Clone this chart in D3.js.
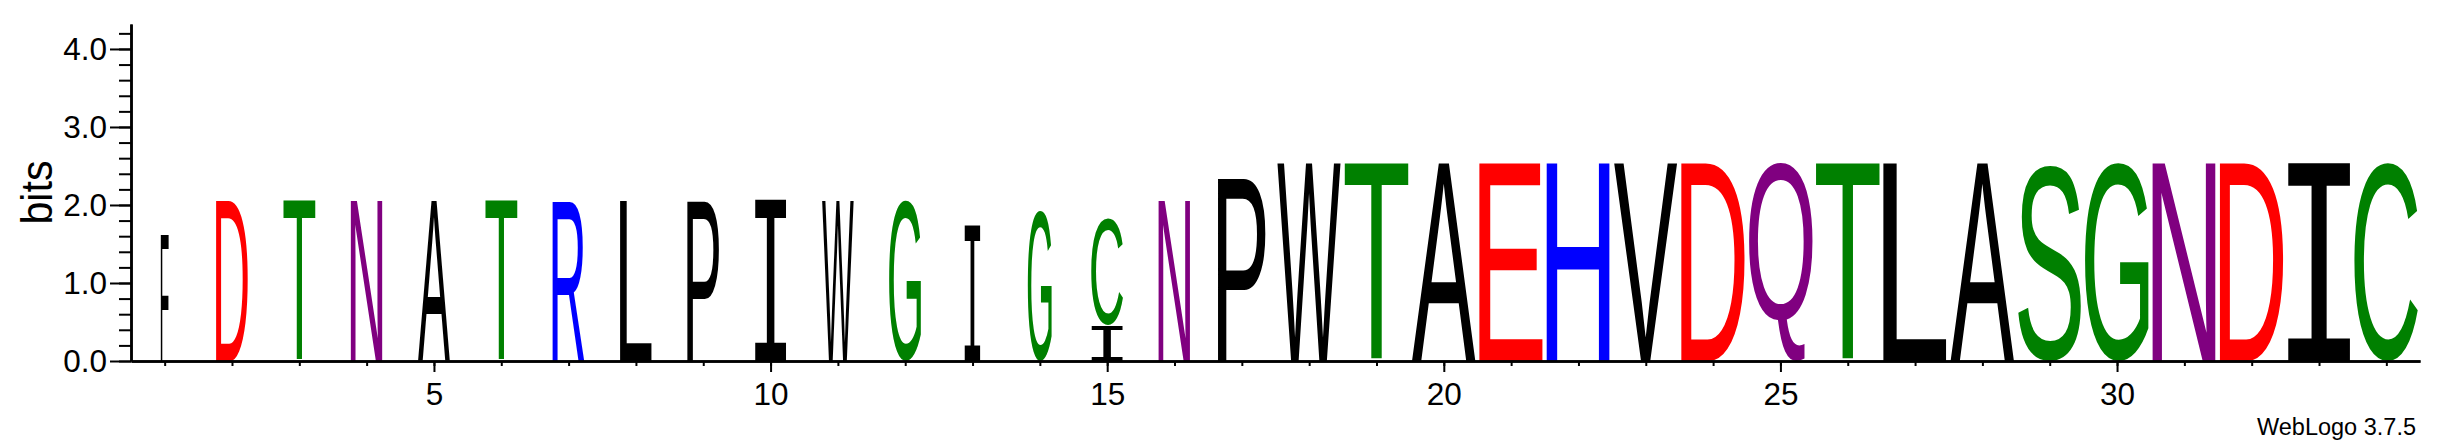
<!DOCTYPE html>
<html>
<head>
<meta charset="utf-8">
<script src="https://cdn.jsdelivr.net/npm/d3@7"></script>
<style>
  body { margin: 0; background: #fff; }
</style>
</head>
<body>
<svg id="logo" width="2442" height="444"></svg>
<script>
// sequence positions along the x axis
const positions = [1, 2, 3, 4, 5, 6, 7, 8, 9, 10, 11, 12, 13, 14, 15, 16, 17,
                   18, 19, 20, 21, 22, 23, 24, 25, 26, 27, 28, 29, 30, 31, 32, 33, 34];

// letters in each stack, bottom to top
const stackLetters = [["F"], ["D"], ["T"], ["N"], ["A"], ["T"], ["R"], ["L"], ["P"], ["I"],
                      ["W"], ["G"], ["I"], ["G"], ["I", "C"], ["N"], ["P"], ["W"], ["T"], ["A"],
                      ["E"], ["H"], ["V"], ["D"], ["Q"], ["T"], ["L"], ["A"], ["S"], ["G"],
                      ["N"], ["D"], ["I"], ["C"]];

// height of each letter in bits, same order as stackLetters
const stackBits = [[1.62], [2.06], [2.06], [2.06], [2.06], [2.06], [2.06], [2.06], [2.06], [2.07],
                   [2.06], [2.06], [1.74], [1.92], [0.45, 1.36], [2.06], [2.34], [2.54], [2.54], [2.54],
                   [2.54], [2.54], [2.54], [2.54], [2.54], [2.54], [2.54], [2.54], [2.54], [2.54],
                   [2.54], [2.54], [2.54], [2.54]];

// number of (non gap) sequences in each column
const seqCounts = [1, 4, 4, 4, 4, 4, 4, 4, 4, 4, 4, 4, 2, 3, 4, 4, 6, 8, 8, 8,
                   8, 8, 8, 8, 8, 8, 8, 8, 8, 8, 8, 8, 8, 8];
const totalSeqs = 8;

const xLabelTicks = [5, 10, 15, 20, 25, 30];
const yMajorTicks = [0, 1, 2, 3, 4];
const yMinorTicks = [0, 0.2, 0.4, 0.6, 0.8, 1, 1.2, 1.4, 1.6, 1.8, 2, 2.2, 2.4, 2.6, 2.8,
                     3, 3.2, 3.4, 3.6, 3.8, 4, 4.2];
const maxBits = 4.32;

// chemistry colour scheme
const letterColor = d3.scaleOrdinal()
    .domain(["G", "S", "T", "Y", "C", "N", "Q", "K", "R", "H", "D", "E",
             "P", "A", "W", "F", "L", "I", "M", "V"])
    .range(["#008000", "#008000", "#008000", "#008000", "#008000", "#800080", "#800080",
            "#0000ff", "#0000ff", "#0000ff", "#ff0000", "#ff0000",
            "#000000", "#000000", "#000000", "#000000", "#000000", "#000000", "#000000", "#000000"]);

const svg = d3.select('#logo');
svg.append('rect').attr('width', 2442).attr('height', 444).attr('fill', '#fff');

const x = d3.scaleLinear().domain([0.5, 34.5]).range([131, 2420]);
const y = d3.scaleLinear().domain([0, maxBits]).range([361, 24]);
const step = x(2) - x(1);

const sansFont = '"Liberation Sans", Arial, sans-serif';
const serifIFont = '"DejaVu Sans Mono", monospace';
function fontFor(ch){
    return ch == "I" ? serifIFont : sansFont;
}

// ink bounds of a glyph at 100px, used to stretch it into its box
const ctx = document.createElement('canvas').getContext('2d');
const boxCache = {};
function inkBox(ch){
    if(boxCache[ch]) return boxCache[ch];
    ctx.font = '100px ' + fontFor(ch);
    const m = ctx.measureText(ch);
    boxCache[ch] = {l: m.actualBoundingBoxLeft, r: m.actualBoundingBoxRight,
                    a: m.actualBoundingBoxAscent, d: m.actualBoundingBoxDescent};
    return boxCache[ch];
}

const glyphs = [];
positions.forEach(function(p, i){
    var base = 0;
    stackLetters[i].forEach(function(ch, j){
        glyphs.push({pos: p, ch: ch, y0: base, y1: base + stackBits[i][j], frac: seqCounts[i] / totalSeqs});
        base += stackBits[i][j];
    });
});

svg.append('g')
    .selectAll('text')
    .data(glyphs)
    .join('text')
    .attr('font-family', d => fontFor(d.ch))
    .attr('font-size', 100)
    .attr('fill', d => letterColor(d.ch))
    .text(d => d.ch)
    .attr('transform', function(d){
        var b = inkBox(d.ch);
        var w = step * 0.95 * d.frac;
        var h = y(d.y0) - y(d.y1);
        var sx = w / (b.l + b.r);
        var sy = h / (b.a + b.d);
        return 'translate(' + (x(d.pos) - w / 2) + ',' + y(d.y1) + ') scale(' + sx + ',' + sy +
               ') translate(' + b.l + ',' + b.a + ')';
    });

// x axis: minor ticks on each position, labelled ticks every 5
function styleAxis(g){
    g.attr('font-family', sansFont).attr('font-size', 31.5);
    g.selectAll('path').attr('stroke-width', 2.5);
    g.selectAll('line').attr('stroke-width', 2);
}
svg.append('g')
    .attr('transform', 'translate(0,361)')
    .call(d3.axisBottom(x).tickValues(positions).tickSize(5).tickSizeOuter(0).tickFormat(''))
    .call(styleAxis);
svg.append('g')
    .attr('transform', 'translate(0,361)')
    .call(d3.axisBottom(x).tickValues(xLabelTicks).tickSize(11).tickPadding(11).tickSizeOuter(0)
          .tickFormat(d3.format('d')))
    .call(styleAxis);

// y axis
svg.append('g')
    .attr('transform', 'translate(131,0)')
    .call(d3.axisLeft(y).tickValues(yMinorTicks).tickSize(12).tickSizeOuter(0).tickFormat(''))
    .call(styleAxis);
svg.append('g')
    .attr('transform', 'translate(131,0)')
    .call(d3.axisLeft(y).tickValues(yMajorTicks).tickSize(21).tickPadding(3).tickSizeOuter(0)
          .tickFormat(d3.format('.1f')))
    .call(styleAxis);

svg.append('text')
    .attr('transform', 'translate(52,' + y(maxBits / 2) + ') rotate(-90)')
    .attr('text-anchor', 'middle')
    .attr('font-family', sansFont)
    .attr('font-size', 45)
    .attr('textLength', 64)
    .attr('lengthAdjust', 'spacingAndGlyphs')
    .text('bits');

svg.append('text')
    .attr('x', 2416)
    .attr('y', 435)
    .attr('text-anchor', 'end')
    .attr('font-family', sansFont)
    .attr('font-size', 23.5)
    .text('WebLogo 3.7.5');
</script>
</body>
</html>
